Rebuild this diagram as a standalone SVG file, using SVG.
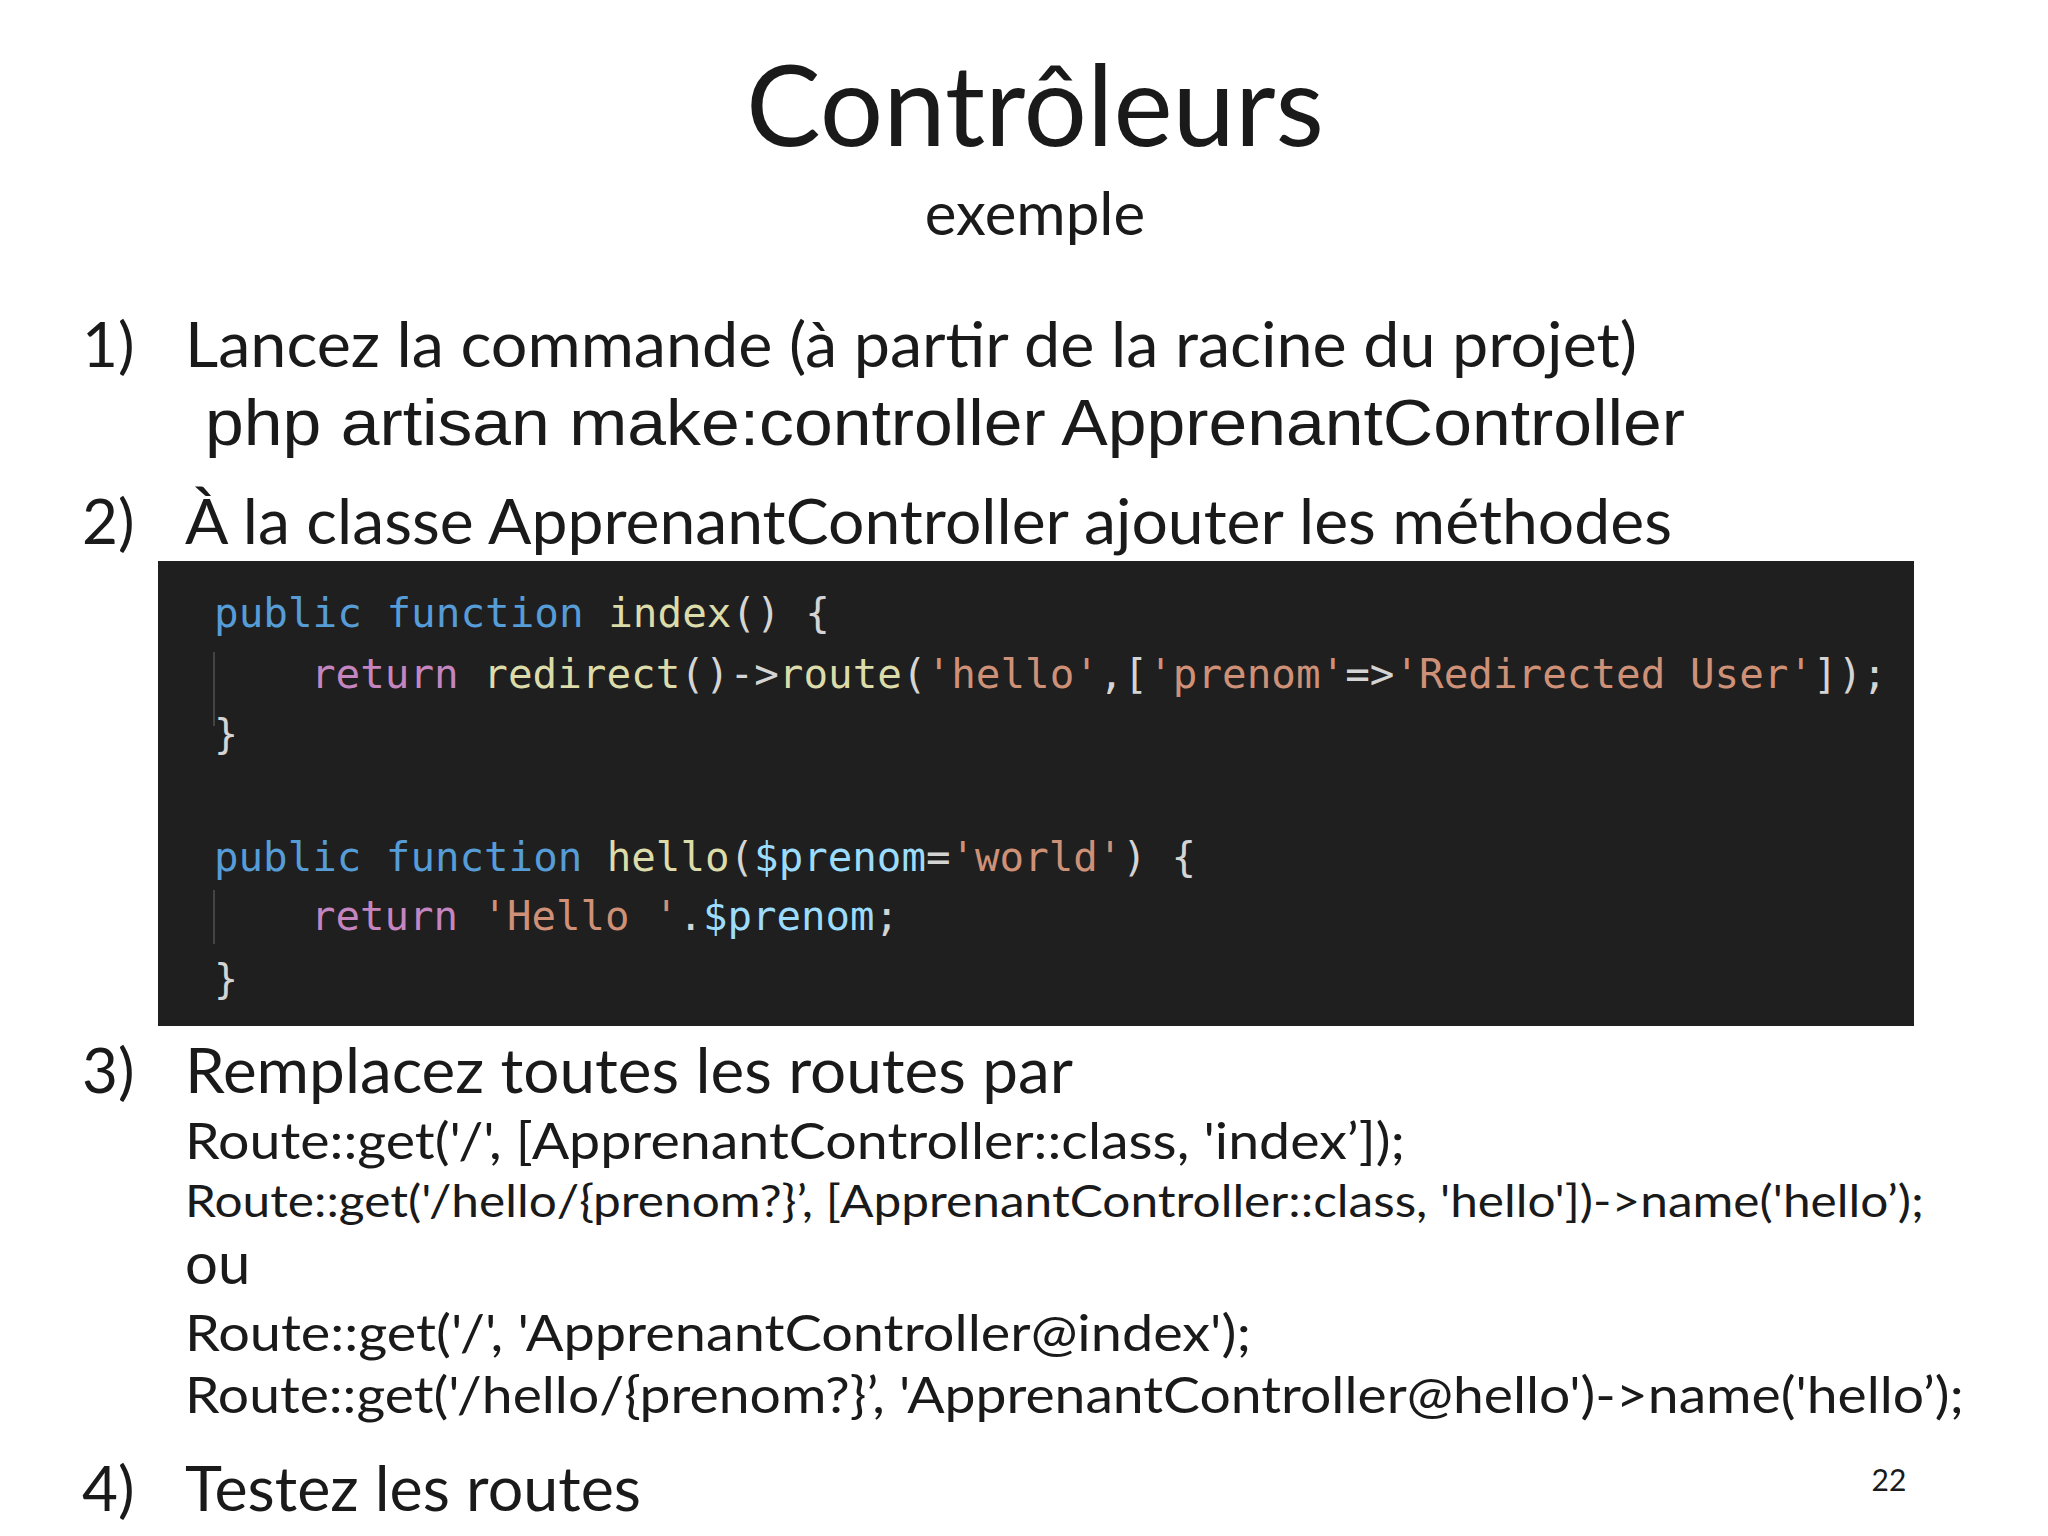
<svg xmlns="http://www.w3.org/2000/svg" width="2048" height="1536" viewBox="0 0 2048 1536">
<style>
.c{font-family:Lato,"Open Sans",sans-serif;fill:#1a1a1a}
.a{font-family:"Liberation Sans",Arial,sans-serif;fill:#1a1a1a}
.m{font-family:"DejaVu Sans Mono","Liberation Mono",monospace;font-size:40px}
.k{fill:#569cd6}.f{fill:#dcdcaa}.r{fill:#c586c0}.s{fill:#ce9178}.v{fill:#9cdcfe}.p{fill:#d4d4d4}
</style>
<rect width="2048" height="1536" fill="#fff"/>
<g id="title">
<text class="c" x="1035" y="146" font-size="112" text-anchor="middle">Contrôleurs</text>
<text class="c" x="1035" y="235" font-size="60" text-anchor="middle" fill="#333">exemple</text>
</g>
<g id="step1">
<text class="c" x="82" y="367" font-size="62">1)</text>
<text class="c" x="185" y="367" font-size="62" textLength="1452" lengthAdjust="spacingAndGlyphs">Lancez la commande (à partir de la racine du projet)</text>
<text class="a" x="205" y="445" font-size="64" textLength="1480" lengthAdjust="spacingAndGlyphs">php artisan make:controller  ApprenantController</text>
</g>
<g id="step2">
<text class="c" x="82" y="544" font-size="62">2)</text>
<text class="c" x="185" y="544" font-size="62" textLength="1487" lengthAdjust="spacingAndGlyphs">À la classe ApprenantController ajouter les méthodes</text>
</g>
<g id="code">
<rect x="158" y="561" width="1756" height="465" fill="#1f1f1f"/>
<line x1="214" y1="652" x2="214" y2="726" stroke="#444" stroke-width="2"/>
<line x1="214" y1="890" x2="214" y2="944" stroke="#444" stroke-width="2"/>
<text class="m" x="214" y="627" textLength="616" lengthAdjust="spacingAndGlyphs"><tspan class="k">public function </tspan><tspan class="f">index</tspan><tspan class="p">() {</tspan></text>
<text class="m" x="311" y="688" textLength="1576" lengthAdjust="spacingAndGlyphs"><tspan class="r">return </tspan><tspan class="f">redirect</tspan><tspan class="p">()-&gt;</tspan><tspan class="f">route</tspan><tspan class="p">(</tspan><tspan class="s">'hello'</tspan><tspan class="p">,[</tspan><tspan class="s">'prenom'</tspan><tspan class="p">=&gt;</tspan><tspan class="s">'Redirected User'</tspan><tspan class="p">]);</tspan></text>
<text class="m p" x="214" y="748">}</text>
<text class="m" x="214" y="871" textLength="982" lengthAdjust="spacingAndGlyphs"><tspan class="k">public function </tspan><tspan class="f">hello</tspan><tspan class="p">(</tspan><tspan class="v">$prenom</tspan><tspan class="p">=</tspan><tspan class="s">'world'</tspan><tspan class="p">) {</tspan></text>
<text class="m" x="311" y="930" textLength="588" lengthAdjust="spacingAndGlyphs"><tspan class="r">return </tspan><tspan class="s">'Hello '</tspan><tspan class="p">.</tspan><tspan class="v">$prenom</tspan><tspan class="p">;</tspan></text>
<text class="m p" x="214" y="993">}</text>
</g>
<g id="step3">
<text class="c" x="82" y="1093" font-size="62">3)</text>
<text class="c" x="185" y="1093" font-size="62" textLength="888" lengthAdjust="spacingAndGlyphs">Remplacez toutes les routes par</text>
<text class="c" x="185" y="1159" font-size="50" textLength="1220" lengthAdjust="spacingAndGlyphs">Route::get('/',  [ApprenantController::class, 'index’]);</text>
<text class="c" x="185" y="1217" font-size="44" textLength="1739" lengthAdjust="spacingAndGlyphs">Route::get('/hello/{prenom?}’, [ApprenantController::class, 'hello'])-&gt;name('hello’);</text>
<text class="c" x="185" y="1284" font-size="58">ou</text>
<text class="c" x="185" y="1351" font-size="50" textLength="1066" lengthAdjust="spacingAndGlyphs">Route::get('/',  'ApprenantController@index');</text>
<text class="c" x="185" y="1413" font-size="50" textLength="1779" lengthAdjust="spacingAndGlyphs">Route::get('/hello/{prenom?}’, 'ApprenantController@hello')-&gt;name('hello’);</text>
</g>
<g id="step4">
<text class="c" x="82" y="1511" font-size="62">4)</text>
<text class="c" x="185" y="1511" font-size="62" textLength="456" lengthAdjust="spacingAndGlyphs">Testez les routes</text>
<text class="c" x="1889" y="1491" font-size="30" text-anchor="middle" fill="#888">22</text>
</g>
</svg>
